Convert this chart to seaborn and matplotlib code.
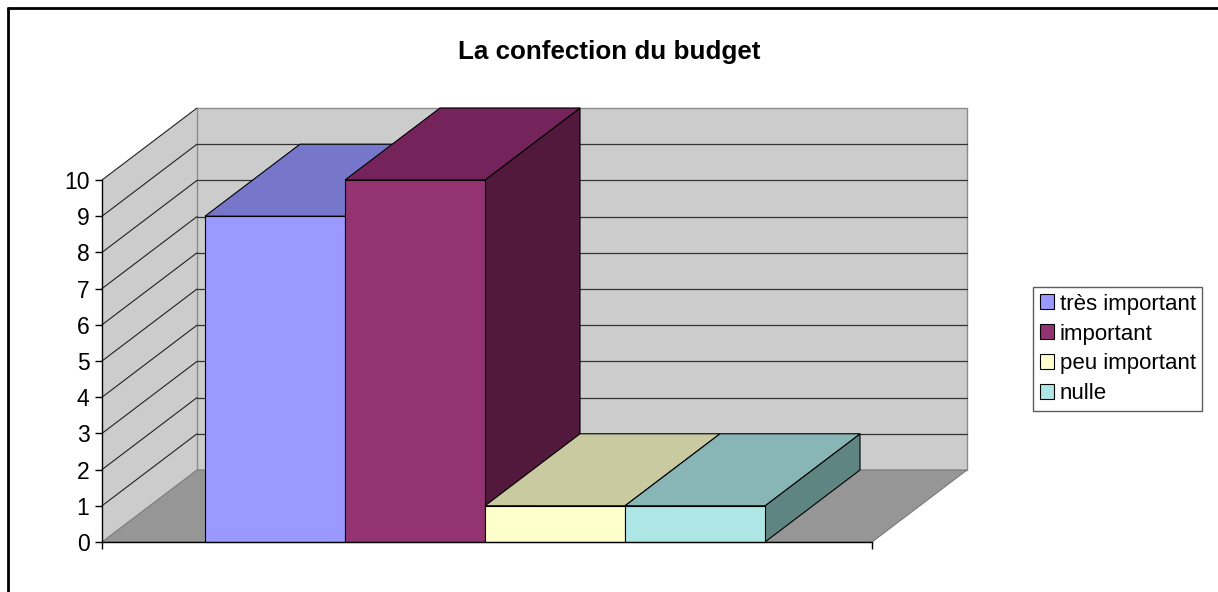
import matplotlib
matplotlib.use("Agg")
import matplotlib.pyplot as plt
from matplotlib.patches import Polygon, Patch
from matplotlib.lines import Line2D
import seaborn as sns
import pandas as pd

# ---- data ----
categories = ["très important", "important", "peu important", "nulle"]
values = [9, 10, 1, 1]
title = "La confection du budget"
yticks = list(range(0, 11))

front_colors = ["#9999FF", "#933372", "#FFFFCC", "#AEE6E6"]
top_colors = ["#7677CB", "#74245A", "#C9CAA0", "#88B5B5"]
side_colors = ["#4E4E99", "#52193D", "#9A9A7A", "#5F8583"]

sns.set_theme(style="white")
plt.rcParams["font.family"] = ["Liberation Sans", "DejaVu Sans"]
plt.rcParams["text.color"] = "black"
plt.rcParams["xtick.color"] = "black"
plt.rcParams["ytick.color"] = "black"

fig = plt.figure(figsize=(12.18, 5.92), dpi=100)
ax = fig.add_axes([102 / 1218, 50 / 592, 770 / 1218, 362 / 592])

df = pd.DataFrame({"cat": categories, "val": values})
sns.barplot(data=df, x="cat", y="val", hue="cat", palette=front_colors,
            width=1.0, dodge=False, legend=False, edgecolor="black",
            linewidth=0.8, saturation=1.0, ax=ax, zorder=5)

# axis frame extents (category units)
xmin, xmax = -0.5 - 103 / 140, 3.5 + 107 / 140
ymax = 10
dx, dy = 95 / 140, 72 / 36.2  # depth offset

ax.set_xlim(xmin, xmax)
ax.set_ylim(0, ymax)

# walls
side = Polygon([(xmin, 0), (xmin, ymax), (xmin + dx, ymax + dy), (xmin + dx, dy)],
               closed=True, facecolor="#CCCCCC", edgecolor="none", clip_on=False, zorder=1)
back = Polygon([(xmin + dx, dy), (xmin + dx, ymax + dy), (xmax + dx, ymax + dy), (xmax + dx, dy)],
               closed=True, facecolor="#CCCCCC", edgecolor="#8C8C8C", linewidth=1.0,
               clip_on=False, zorder=1)
ax.add_patch(side)
ax.add_patch(back)
for k in yticks[1:-1]:
    ax.plot([xmin + dx, xmax + dx], [k + dy, k + dy], color="#333333", lw=0.9,
            clip_on=False, zorder=2)
for k in yticks[1:]:
    ax.plot([xmin, xmin + dx], [k, k + dy], color="#222222", lw=0.8,
            clip_on=False, zorder=2)
floor = Polygon([(xmin, 0), (xmax, 0), (xmax + dx, dy), (xmin + dx, dy)],
                closed=True, facecolor="#969696", edgecolor="#7A7A7A", linewidth=0.8,
                clip_on=False, zorder=3)
ax.add_patch(floor)

# 3D faces derived from the seaborn bars
bars = sorted([p for p in ax.patches if p not in (side, back, floor)],
              key=lambda p: p.get_x())
z = 4
for i, b in enumerate(bars):
    x, w, h = b.get_x(), b.get_width(), b.get_height()
    sp = Polygon([(x + w, 0), (x + w, h), (x + w + dx, h + dy), (x + w + dx, dy)],
                 closed=True, facecolor=side_colors[i], edgecolor="black", linewidth=0.8,
                 clip_on=False, zorder=z)
    tp = Polygon([(x, h), (x + w, h), (x + w + dx, h + dy), (x + dx, h + dy)],
                 closed=True, facecolor=top_colors[i], edgecolor="black", linewidth=0.8,
                 clip_on=False, zorder=z + 1)
    ax.add_patch(sp)
    ax.add_patch(tp)
    b.set_zorder(z + 2)
    b.set_clip_on(False)
    z += 3

# axes styling
for s in ["top", "right"]:
    ax.spines[s].set_visible(False)
for s in ["left", "bottom"]:
    ax.spines[s].set_visible(True)
    ax.spines[s].set_color("black")
    ax.spines[s].set_linewidth(1.0)
    ax.spines[s].set_zorder(30)
ax.set_yticks(yticks)
ax.set_yticklabels([str(t) for t in yticks], fontsize=16.5, color="black")
ax.set_xticks([xmin, xmax])
ax.set_xticklabels(["", ""])
ax.tick_params(axis="both", direction="out", length=5, width=1, color="black",
               left=True, bottom=True, pad=4)
ax.set_xlabel("")
ax.set_ylabel("")
ax.set_facecolor("none")
ax.grid(False)

fig.text(609 / 1218, 1 - 52 / 592, title, ha="center", va="center",
         fontsize=18.7, fontweight="bold", color="black")

handles = [Patch(facecolor=c, edgecolor="black", linewidth=0.8) for c in front_colors]
leg = fig.legend(handles, categories, loc="center left",
                 bbox_to_anchor=(1033 / 1218, 1 - 349 / 592), fontsize=16,
                 frameon=True, fancybox=False, shadow=False, handlelength=0.65,
                 handleheight=0.65, handletextpad=0.25, labelspacing=0.4,
                 borderpad=0.3, borderaxespad=0)
for t in leg.get_texts():
    t.set_color("black")
leg.get_frame().set_edgecolor("#333333")
leg.get_frame().set_linewidth(1.0)

# figure border (top and left)
fig.add_artist(Line2D([7.5 / 1218, 1.0], [1 - 7.5 / 592, 1 - 7.5 / 592],
                      transform=fig.transFigure, color="black", lw=2))
fig.add_artist(Line2D([7.5 / 1218, 7.5 / 1218], [0, 1 - 7.5 / 592],
                      transform=fig.transFigure, color="black", lw=2))

fig.savefig("out.png", dpi=100)
